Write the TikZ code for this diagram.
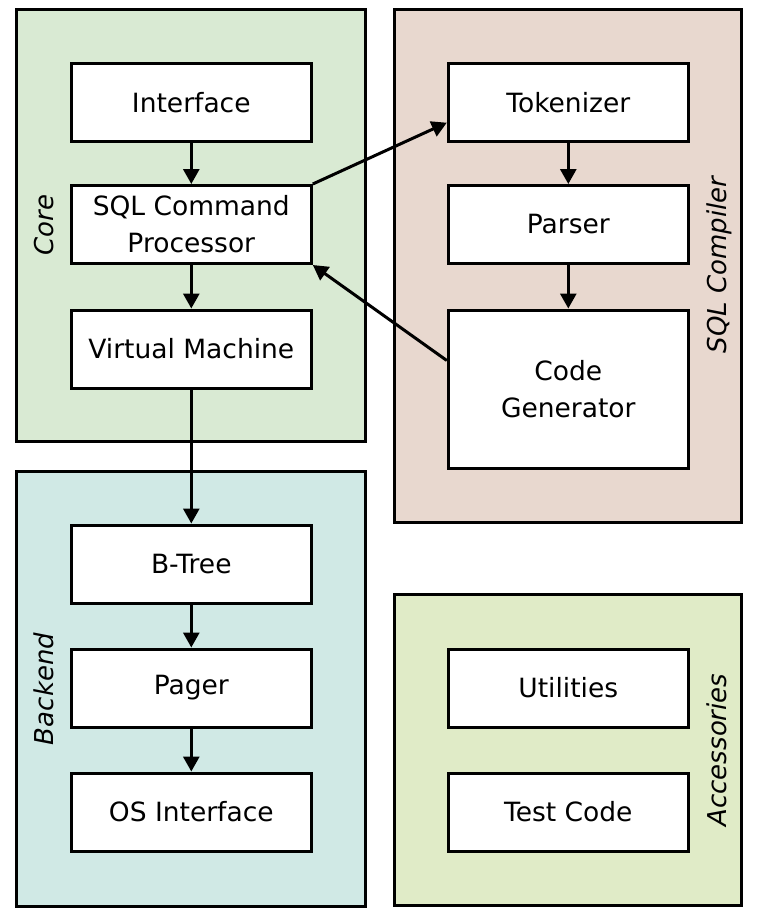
\documentclass[tikz,border=0pt]{standalone}
\usepackage{fontspec}
\setmainfont{DejaVu Sans}
\usetikzlibrary{arrows.meta,calc}
\definecolor{coreC}{RGB}{217,234,211}
\definecolor{compC}{RGB}{232,216,207}
\definecolor{backC}{RGB}{208,233,229}
\definecolor{accC}{RGB}{224,235,199}
\tikzset{
  boxnode/.style={draw=black, fill=white, line width=3pt, minimum width=240pt, minimum height=78pt,
    align=center, inner sep=0pt, font=\fontsize{26.5}{37}\selectfont},
  groupbox/.style={draw=black, line width=3pt},
  grouplabel/.style={rotate=90, anchor=base, inner sep=0pt, font=\fontsize{26}{30}\selectfont\itshape},
  flow/.style={line width=3pt, -{Triangle[length=15pt,width=16pt]}}
}
\begin{document}
\begin{tikzpicture}[x=1pt,y=-1pt]
\useasboundingbox (0,0) rectangle (756,921);
\fill[white] (0,0) rectangle (756,921);
% containers
\path[groupbox, fill=coreC] (16.5,9) rectangle (365.2,441.2);
\path[groupbox, fill=backC] (16.5,471) rectangle (365.2,906.5);
\path[groupbox, fill=compC] (394.2,9) rectangle (741.5,522);
\path[groupbox, fill=accC] (394.2,594.5) rectangle (741.5,905.5);
\node[grouplabel] (lcore) at (53,225) {Core};
\node[grouplabel] (lback) at (53,689) {Backend};
\node[grouplabel] (lcomp) at (726,265) {SQL Compiler};
\node[grouplabel] (lacc) at (726,750) {Accessories};
% nodes
\node[boxnode] (iface) at (191.3,102.2) {Interface};
\node[boxnode] (sqlcp) at (191.3,224.5) {SQL Command\\Processor};
\node[boxnode] (vm) at (191.3,349) {Virtual Machine};
\node[boxnode] (btree) at (191.3,564) {B-Tree};
\node[boxnode] (pager) at (191.3,688) {Pager};
\node[boxnode] (osi) at (191.3,812) {OS Interface};
\node[boxnode] (tok) at (568.3,102.2) {Tokenizer};
\node[boxnode] (parser) at (568.3,224.5) {Parser};
\node[boxnode, minimum height=158pt] (cg) at (568.3,389) {Code\\Generator};
\node[boxnode] (util) at (568.3,688) {Utilities};
\node[boxnode] (test) at (568.3,812) {Test Code};
% connectors
\draw[flow] (iface) -- (sqlcp);
\draw[flow] (sqlcp) -- (vm);
\draw[flow] (vm) -- (btree);
\draw[flow] (btree) -- (pager);
\draw[flow] (pager) -- (osi);
\draw[flow] (tok) -- (parser);
\draw[flow] (parser) -- (cg);
\draw[flow] (sqlcp.north east) -- ($(tok.south west)+(0,-20)$);
\draw[flow] ($(cg.north west)+(0,52)$) -- (sqlcp.south east);
\end{tikzpicture}
\end{document}
